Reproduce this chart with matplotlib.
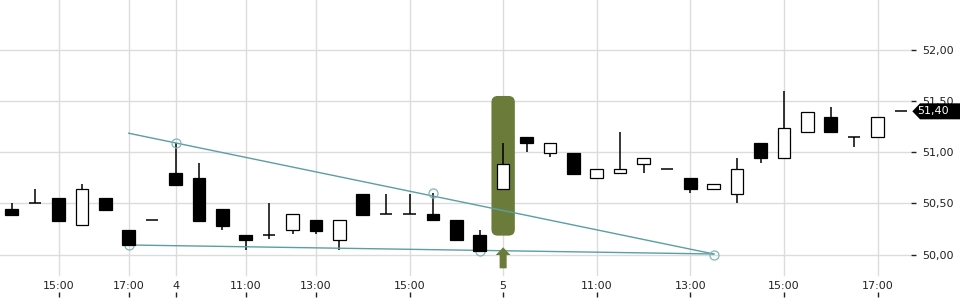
import matplotlib as mpl
import matplotlib.pyplot as plt
import matplotlib.transforms as mtransforms
from matplotlib.patches import FancyBboxPatch, Polygon
from matplotlib.ticker import FuncFormatter
import numpy as np

mpl.rcParams['font.family'] = 'DejaVu Sans'
mpl.rcParams['font.size'] = 8

# candles
opens  = [50.45, 50.50, 50.55, 50.29, 50.55, 50.24, 50.34, 50.80, 50.75, 50.45,
          50.19, 50.19, 50.24, 50.34, 50.14, 50.59, 50.40, 50.40, 50.40, 50.34,
          50.19, 50.64, 51.15, 50.99, 50.99, 50.75, 50.80, 50.89, 50.84, 50.75,
          50.64, 50.59, 51.09, 50.94, 51.20, 51.34, 51.15, 51.15, 51.40]
highs  = [50.50, 50.64, 50.55, 50.69, 50.55, 50.24, 50.34, 51.09, 50.90, 50.45,
          50.19, 50.50, 50.40, 50.34, 50.34, 50.59, 50.59, 50.59, 50.60, 50.34,
          50.24, 51.09, 51.15, 51.09, 50.99, 50.84, 51.20, 50.94, 50.84, 50.75,
          50.69, 50.94, 51.09, 51.60, 51.39, 51.44, 51.15, 51.34, 51.40]
lows   = [50.39, 50.50, 50.33, 50.29, 50.44, 50.09, 50.34, 50.68, 50.33, 50.24,
          50.05, 50.15, 50.20, 50.20, 50.05, 50.39, 50.40, 50.40, 50.34, 50.14,
          50.04, 50.64, 51.00, 50.95, 50.79, 50.75, 50.80, 50.80, 50.84, 50.60,
          50.64, 50.50, 50.90, 50.94, 51.20, 51.20, 51.05, 51.15, 51.40]
closes = [50.39, 50.50, 50.33, 50.64, 50.44, 50.09, 50.34, 50.68, 50.33, 50.28,
          50.14, 50.19, 50.40, 50.23, 50.34, 50.39, 50.40, 50.40, 50.34, 50.14,
          50.04, 50.89, 51.09, 51.09, 50.79, 50.84, 50.84, 50.94, 50.84, 50.64,
          50.69, 50.84, 50.94, 51.24, 51.39, 51.20, 51.15, 51.34, 51.40]

tick_pos = [2, 5, 7, 10, 13, 17, 21, 25, 29, 33, 37]
tick_labels = ['15:00', '17:00', '4', '11:00', '13:00', '15:00', '5',
               '11:00', '13:00', '15:00', '17:00']
y_ticks = [50.0, 50.5, 51.0, 51.5, 52.0]

# triangle drawing
upper_x, upper_y = [5, 30], [51.186, 50.007]
lower_x, lower_y = [5, 30], [50.095, 50.007]
pivot_x = [5, 7, 18, 20, 30]
pivot_y = [50.09, 51.09, 50.60, 50.04, 50.00]

# signal marker
signal_idx = 21
signal_lo, signal_hi = 50.186, 51.55
arrow_tip, arrow_neck, arrow_tail = 50.072, 49.997, 49.867

last_price = 51.40

green = '#6b7c3a'
teal = '#5b9ea5'
grid_col = '#dcdcdc'
txt = '#222222'

fig = plt.figure(figsize=(9.6, 3), dpi=100)
ax = fig.add_axes((0, 0.01, 0.949, 0.99))
ax.set_xlim(-0.5, 38.43)
ax.set_ylim(49.587, 52.487)
for s in ax.spines.values():
    s.set_visible(False)

# grid
for v in y_ticks:
    ax.axhline(v, color=grid_col, lw=1, zorder=0)
for p in tick_pos:
    ax.axvline(p, ymin=0.074, color=grid_col, lw=1, zorder=0)

# signal box + arrow
box = FancyBboxPatch((signal_idx - 0.5, signal_lo), 1.0, signal_hi - signal_lo,
                     boxstyle="round,pad=0,rounding_size=0.27",
                     mutation_aspect=0.229, fc=green, ec='none', zorder=1)
ax.add_patch(box)
hw, sw = 0.315, 0.15
arrow = Polygon([(signal_idx, arrow_tip), (signal_idx + hw, arrow_neck),
                 (signal_idx + sw, arrow_neck), (signal_idx + sw, arrow_tail),
                 (signal_idx - sw, arrow_tail), (signal_idx - sw, arrow_neck),
                 (signal_idx - hw, arrow_neck)],
                closed=True, fc=green, ec='none', zorder=4, clip_on=False)
ax.add_patch(arrow)

# candles
x = np.arange(len(opens))
o, h, l, c = map(np.array, (opens, highs, lows, closes))
w = 0.54
ax.vlines(x, l, h, color='black', lw=1.1, zorder=2)
body_lo = np.minimum(o, c)
body_h = np.abs(c - o)
up = c > o
down = c < o
flat = c == o
ax.bar(x[up], body_h[up], w, bottom=body_lo[up], color='white',
       edgecolor='black', lw=0.9, zorder=3)
ax.bar(x[down], body_h[down], w, bottom=body_lo[down], color='black',
       edgecolor='black', lw=0.9, zorder=3)
ax.hlines(c[flat], x[flat] - w / 2, x[flat] + w / 2, color='black', lw=1.1, zorder=3)

# trend lines
ax.plot(upper_x, upper_y, color=teal, lw=1, zorder=2.5)
ax.plot(lower_x, lower_y, color=teal, lw=1, zorder=2.5)
ax.plot(pivot_x, pivot_y, ls='none', marker='o', ms=6.5, mfc='none',
        mec='#7fb6bb', mew=0.9, zorder=2.6)

# axes ticks
ax.set_xticks(tick_pos)
ax.set_xticklabels(tick_labels)
ax.tick_params(axis='x', direction='in', length=3.6, width=1, color=txt,
               labelcolor=txt, pad=-11.5)
ax.yaxis.tick_right()
ax.set_yticks(y_ticks)
ax.yaxis.set_major_formatter(FuncFormatter(lambda v, p: f"{v:.2f}".replace('.', ',')))
ax.tick_params(axis='y', direction='out', length=3.6, width=1, color=txt,
               labelcolor=txt, pad=4.5)

# last price tag
trans = mtransforms.blended_transform_factory(ax.transAxes, ax.transData)
tip = 1 + 1.3 / 911
body = 1 + 9 / 911
dy = 8 / 102.4
tag = Polygon([(tip, last_price), (body, last_price + dy), (1.06, last_price + dy),
               (1.06, last_price - dy), (body, last_price - dy)],
              closed=True, transform=trans, fc='black', ec='none',
              clip_on=False, zorder=5)
ax.add_patch(tag)
ax.text(1 + 6 / 911, last_price, f"{last_price:.2f}".replace('.', ','),
        transform=trans, color='white', va='center', ha='left', zorder=6)

plt.savefig('out.png', dpi=100)
